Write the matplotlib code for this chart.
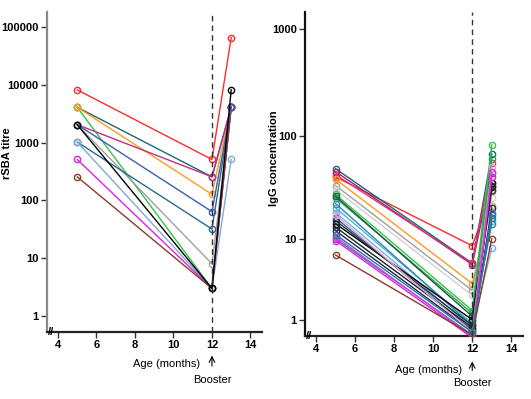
import numpy as np
import matplotlib
matplotlib.use("Agg")
import matplotlib.pyplot as plt

plt.rcParams['font.family'] = ['Liberation Sans', 'DejaVu Sans']

# ---------------- data ----------------
ages = [5, 12, 13]

# Left panel: rSBA titre
rsba_colors = ["#ff2a2a", "#1f6577", "#33c24a", "#ff9a1a", "#c0307f", "#a0a0a0",
               "#2a6a8a", "#80aadc", "#e020e0", "#8b3a2a", "#3a5fb0", "#000000"]
rsba_m5 = [8192, 4096, 4096, 4096, 2048, 2048, 1024, 1024, 512, 256, 2048, 2048]
rsba_m12 = [512, 256, 3, 128, 256, 8, 32, 3, 3, 3, 64, 3]
rsba_m13 = [65536, 4096, 4096, 4096, 4096, 4096, 4096, 512, 4096, 4096, 4096, 8192]

# Right panel: IgG concentration
igg_colors = ["#ff2a2a", "#1f6577", "#8b2a7a", "#e0306a", "#ff9a1a", "#a0a0a0",
              "#d0d0d0", "#33c24a", "#2aa84a", "#1f5a45", "#40c0d0", "#80aadc",
              "#3a80c0", "#3a5fb0", "#000000", "#1a3a30", "#202020", "#1a2a60",
              "#e0a0e0", "#4a70c0", "#e020e0", "#d040e0", "#8b3a2a", "#2a7a8a"]
igg_m5 = [40, 48, 45, 42, 38, 33, 30, 27, 25, 26, 20, 18, 22, 16, 14, 15, 13, 12,
          17, 10, 9.5, 10.5, 6.3, 11]
igg_m12 = [8.2, 5.0, 4.8, 5.0, 2.8, 2.3, 2.0, 1.3, 1.2, 1.1, 0.9, 0.8, 0.85, 0.75,
           1.0, 0.85, 0.8, 0.72, 0.7, 0.65, 0.6, 0.62, 0.65, 0.7]
igg_m13 = [29, 67, 44, 55, 21, 35, 25, 82, 60, 30, 15, 7.7, 14, 17, 35, 33, 32, 20,
           50, 18, 40, 45, 10, 16]

xticks = [4, 6, 8, 10, 12, 14]
rsba_ticks = [1, 10, 100, 1000, 10000, 100000]
igg_ticks = [1, 10, 100, 1000]

# ---------------- figure ----------------
W, H = 531, 399
fig = plt.figure(figsize=(W / 100, H / 100), dpi=100)


def px_axes(l, t, r, b):
    return fig.add_axes([l / W, 1 - b / H, (r - l) / W, (b - t) / H])


def style(ax, leftcol):
    for s in ["top", "right"]:
        ax.spines[s].set_visible(False)
    ax.spines["left"].set_color(leftcol)
    ax.spines["left"].set_linewidth(1.6)
    ax.spines["bottom"].set_color("#222222")
    ax.spines["bottom"].set_linewidth(1.6)
    ax.tick_params(axis="both", direction="out", length=4, width=1,
                   labelsize=8, colors="#333333", labelcolor="black", pad=2)
    for lab in ax.get_xticklabels() + ax.get_yticklabels():
        lab.set_fontweight("bold")
    ax.minorticks_off()
    ax.set_xlim(3.43, 14.6)
    ax.set_xticks(xticks)
    ax.set_xticklabels([str(v) for v in xticks], fontweight="bold")
    ax.text(0.005, 0.0, "//", transform=ax.transAxes, fontsize=8, fontweight="bold",
            ha="left", va="center", clip_on=False)
    ax.axvline(12, color="#333333", ls=(0, (4, 3)), lw=1, zorder=5)


def draw(ax, colors, a, b, c):
    for col, v5, v12, v13 in zip(colors, a, b, c):
        ax.plot(ages, [v5, v12, v13], color=col, lw=1.0, marker="o", ms=4.5,
                mfc="none", mec=col, mew=1.0, zorder=3)


# Left panel
ax1 = px_axes(47, 12, 262, 332)
ax1.set_yscale("log")
ax1.set_ylim(0.53, 10 ** 5.26)
draw(ax1, rsba_colors, rsba_m5, rsba_m12, rsba_m13)
ax1.set_yticks(rsba_ticks)
ax1.set_yticklabels([str(v) for v in rsba_ticks])
style(ax1, "#888888")
ax1.set_ylabel("rSBA titre", fontsize=8, fontweight="bold", labelpad=4)
ax1.yaxis.set_label_coords(-0.165, 0.56)
ax1.set_xlabel("Age (months)", fontsize=8)
ax1.xaxis.set_label_coords((167 - 47) / (262 - 47), -0.085)
ax1.annotate("", xy=(12, -0.065), xytext=(12, -0.115),
             xycoords=("data", "axes fraction"),
             arrowprops=dict(arrowstyle="->", lw=0.8, color="black"))
ax1.text(12, -0.15, "Booster", transform=ax1.get_xaxis_transform(), fontsize=8,
         ha="center", va="center")

# Right panel: piecewise log scale matching the drawn tick spacing
kl = np.array([0.0, 1.0, 2.0, 3.0])
kp = np.array([0.0, 81.0, 184.0, 291.0])


def fwd(v):
    v = np.asarray(v, dtype=float)
    l = np.log10(np.clip(v, 1e-12, None))
    out = np.interp(l, kl, kp)
    out = np.where(l < 0, l * 81.0, out)
    out = np.where(l > 3, 291.0 + (l - 3) * 107.0, out)
    return out


def inv(p):
    p = np.asarray(p, dtype=float)
    l = np.interp(p, kp, kl)
    l = np.where(p < 0, p / 81.0, l)
    l = np.where(p > 291, 3 + (p - 291.0) / 107.0, l)
    return 10 ** l


ax2 = px_axes(305, 12, 523, 336)
ax2.set_yscale("function", functions=(fwd, inv))
ax2.set_ylim(0.63, 10 ** 3.16)
draw(ax2, igg_colors, igg_m5, igg_m12, igg_m13)
ax2.set_yticks(igg_ticks)
ax2.set_yticklabels([str(v) for v in igg_ticks])
style(ax2, "#111111")
ax2.set_ylabel("IgG concentration", fontsize=8, fontweight="bold")
ax2.yaxis.set_label_coords(-0.12, 0.55)
ax2.set_xlabel("Age (months)", fontsize=8)
ax2.xaxis.set_label_coords((429 - 305) / (523 - 305), -0.09)
ax2.annotate("", xy=(12, -0.07), xytext=(12, -0.115),
             xycoords=("data", "axes fraction"),
             arrowprops=dict(arrowstyle="->", lw=0.8, color="black"))
ax2.text(12, -0.145, "Booster", transform=ax2.get_xaxis_transform(), fontsize=8,
         ha="center", va="center")

fig.savefig("out.png", dpi=100)
